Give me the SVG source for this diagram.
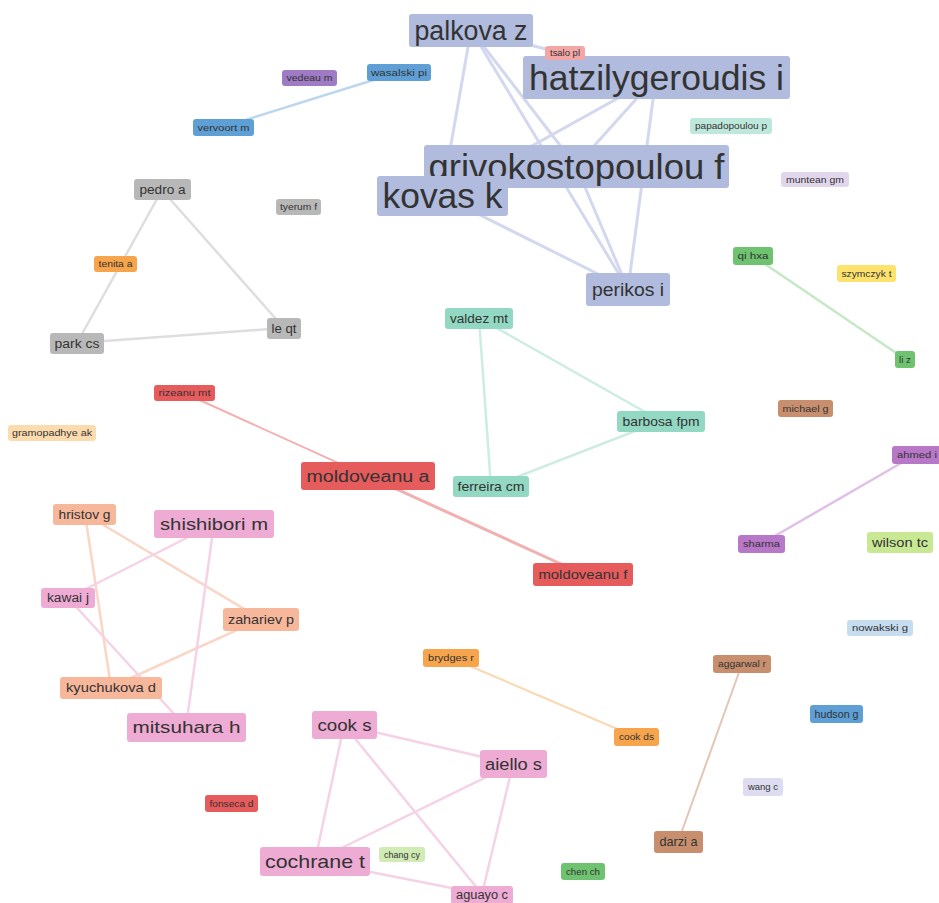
<svg xmlns="http://www.w3.org/2000/svg" width="939" height="903" viewBox="0 0 939 903">
<style>
  text { font-family: "Liberation Sans", Arial, sans-serif; fill: #333; text-anchor: middle; }
  .n rect { rx: 3; ry: 3; }
  .e line { stroke-linecap: round; fill: none; }
  .blu { fill: #b0bbdd; }
  .pur { fill: #9f7bc6; }
  .sky { fill: #5e9fd6; }
  .tsa { fill: #f2a6a6; }
  .mint { fill: #bfe8dc; }
  .lil { fill: #e2d6ec; }
  .gry { fill: #b8b8b8; }
  .org { fill: #f7a54c; }
  .grn { fill: #6fc270; }
  .yel { fill: #fde36e; }
  .teal { fill: #92d8c2; }
  .red { fill: #e65b5c; }
  .peach { fill: #fcdcae; }
  .brn { fill: #c78f6e; }
  .vio { fill: #b878c8; }
  .lgrn { fill: #c8e894; }
  .lblu { fill: #c6dcef; }
  .sal { fill: #f7b79b; }
  .pink { fill: #eeabd4; }
  .lav { fill: #dedcf0; }
  .pgrn { fill: #d0ecb4; }
  .ebl { stroke: #d3d8ef; stroke-width: 3; }
  .egr { stroke: #dedede; stroke-width: 2.5; }
  .esk { stroke: #bcd6ee; stroke-width: 2.5; }
  .egn { stroke: #c6e8c6; stroke-width: 2.5; }
  .etl { stroke: #cdece2; stroke-width: 2.5; }
  .erd { stroke: #f2b0b1; stroke-width: 2; }
  .evi { stroke: #e0c0e6; stroke-width: 2.5; }
  .esa { stroke: #fad6c6; stroke-width: 2.5; }
  .epk { stroke: #f6d2e6; stroke-width: 2.5; }
  .eor { stroke: #fad8b2; stroke-width: 2; }
  .ebr { stroke: #e2c6b6; stroke-width: 2; }
</style>
<rect width="939" height="903" fill="#ffffff"/>
<g id="connectors" class="e">
  <line class="ebl" x1="471" y1="30" x2="656" y2="77"/>
  <line class="ebl" x1="471" y1="30" x2="576" y2="166"/>
  <line class="ebl" x1="471" y1="30" x2="442" y2="196"/>
  <line class="ebl" x1="471" y1="30" x2="628" y2="289"/>
  <line class="ebl" x1="656" y1="77" x2="576" y2="166"/>
  <line class="ebl" x1="656" y1="77" x2="442" y2="196"/>
  <line class="ebl" x1="656" y1="77" x2="628" y2="289"/>
  <line class="ebl" x1="576" y1="166" x2="628" y2="289"/>
  <line class="ebl" x1="442" y1="196" x2="628" y2="289"/>
  <line class="ebl" x1="442" y1="196" x2="576" y2="166"/>
  <line class="esk" x1="223" y1="127" x2="399" y2="72"/>
  <line class="egr" x1="162" y1="190" x2="77" y2="343"/>
  <line class="egr" x1="162" y1="190" x2="284" y2="328"/>
  <line class="egr" x1="77" y1="343" x2="284" y2="328"/>
  <line class="egn" x1="753" y1="256" x2="905" y2="359"/>
  <line class="etl" x1="479" y1="318" x2="491" y2="487"/>
  <line class="etl" x1="479" y1="318" x2="661" y2="421"/>
  <line class="etl" x1="661" y1="421" x2="491" y2="487"/>
  <line class="erd" x1="184" y1="393" x2="583" y2="574"/>
  <line class="erd" x1="368" y1="476" x2="583" y2="574" style="stroke-width:3"/>
  <line class="evi" x1="915" y1="455" x2="761" y2="544"/>
  <line class="esa" x1="85" y1="514" x2="261" y2="619"/>
  <line class="esa" x1="85" y1="514" x2="111" y2="687"/>
  <line class="esa" x1="261" y1="619" x2="111" y2="687"/>
  <line class="epk" x1="214" y1="524" x2="68" y2="598"/>
  <line class="epk" x1="214" y1="524" x2="186" y2="727"/>
  <line class="epk" x1="68" y1="598" x2="186" y2="727"/>
  <line class="eor" x1="451" y1="658" x2="636" y2="737"/>
  <line class="ebr" x1="742" y1="664" x2="678" y2="842"/>
  <line class="epk" x1="344" y1="725" x2="513" y2="764"/>
  <line class="epk" x1="344" y1="725" x2="315" y2="861"/>
  <line class="epk" x1="344" y1="725" x2="482" y2="894"/>
  <line class="epk" x1="513" y1="764" x2="315" y2="861"/>
  <line class="epk" x1="513" y1="764" x2="482" y2="894"/>
  <line class="epk" x1="315" y1="861" x2="482" y2="894"/>
</g>
<g id="n-palkova" class="n"><rect class="blu" x="409" y="14" width="124" height="33"/><text x="471" y="40" font-size="27" textLength="113" lengthAdjust="spacingAndGlyphs">palkova z</text></g>
<g id="n-hatzilygeroudis" class="n"><rect class="blu" x="523" y="56" width="267" height="43"/><text x="656.5" y="90" font-size="35" textLength="255" lengthAdjust="spacingAndGlyphs">hatzilygeroudis i</text></g>
<g id="n-grivokostopoulou" class="n"><rect class="blu" x="424" y="145" width="305" height="43"/><text x="576.5" y="179" font-size="35" textLength="296" lengthAdjust="spacingAndGlyphs">grivokostopoulou f</text></g>
<g id="n-kovas" class="n"><rect class="blu" x="377" y="176" width="131" height="40"/><text x="442.5" y="208" font-size="35" textLength="120" lengthAdjust="spacingAndGlyphs">kovas k</text></g>
<g id="n-perikos" class="n"><rect class="blu" x="586" y="273" width="84" height="33"/><text x="628" y="296" font-size="19" textLength="72" lengthAdjust="spacingAndGlyphs">perikos i</text></g>
<g id="n-tsalo" class="n"><rect class="tsa" x="545" y="46" width="40" height="14"/><text x="565" y="56" font-size="9" textLength="30" lengthAdjust="spacingAndGlyphs">tsalo pl</text></g>
<g id="n-papadopoulou" class="n"><rect class="mint" x="690" y="118" width="82" height="16"/><text x="731" y="129" font-size="9" textLength="72" lengthAdjust="spacingAndGlyphs">papadopoulou p</text></g>
<g id="n-muntean" class="n"><rect class="lil" x="781" y="172" width="68" height="15"/><text x="815" y="182.5" font-size="9" textLength="58" lengthAdjust="spacingAndGlyphs">muntean gm</text></g>
<g id="n-vedeau" class="n"><rect class="pur" x="282" y="70" width="55" height="16"/><text x="309.5" y="81.3" font-size="9" textLength="46" lengthAdjust="spacingAndGlyphs">vedeau m</text></g>
<g id="n-wasalski" class="n"><rect class="sky" x="367" y="64" width="64" height="17"/><text x="399" y="75.8" font-size="9" textLength="56" lengthAdjust="spacingAndGlyphs">wasalski pi</text></g>
<g id="n-vervoort" class="n"><rect class="sky" x="193" y="119" width="61" height="17"/><text x="223.5" y="130.8" font-size="9" textLength="52" lengthAdjust="spacingAndGlyphs">vervoort m</text></g>
<g id="n-pedro" class="n"><rect class="gry" x="134" y="179" width="57" height="21"/><text x="162.5" y="193.5" font-size="12" textLength="46" lengthAdjust="spacingAndGlyphs">pedro a</text></g>
<g id="n-tyerum" class="n"><rect class="gry" x="276" y="199" width="45" height="16"/><text x="298.5" y="210.3" font-size="9" textLength="37" lengthAdjust="spacingAndGlyphs">tyerum f</text></g>
<g id="n-tenita" class="n"><rect class="org" x="94" y="256" width="43" height="16"/><text x="115.5" y="267.3" font-size="9" textLength="34" lengthAdjust="spacingAndGlyphs">tenita a</text></g>
<g id="n-park" class="n"><rect class="gry" x="50" y="333" width="54" height="21"/><text x="77" y="347.7" font-size="12" textLength="45" lengthAdjust="spacingAndGlyphs">park cs</text></g>
<g id="n-leqt" class="n"><rect class="gry" x="267" y="318" width="34" height="21"/><text x="284" y="332.7" font-size="12" textLength="25" lengthAdjust="spacingAndGlyphs">le qt</text></g>
<g id="n-qi" class="n"><rect class="grn" x="733" y="247" width="40" height="18"/><text x="753" y="259.3" font-size="9" textLength="31" lengthAdjust="spacingAndGlyphs">qi hxa</text></g>
<g id="n-szymczyk" class="n"><rect class="yel" x="837" y="265" width="59" height="17"/><text x="866.5" y="276.8" font-size="9" textLength="50" lengthAdjust="spacingAndGlyphs">szymczyk t</text></g>
<g id="n-liz" class="n"><rect class="grn" x="895" y="351" width="20" height="17"/><text x="905" y="362.8" font-size="9" textLength="12" lengthAdjust="spacingAndGlyphs">li z</text></g>
<g id="n-valdez" class="n"><rect class="teal" x="445" y="308" width="68" height="21"/><text x="479" y="322.7" font-size="12" textLength="58" lengthAdjust="spacingAndGlyphs">valdez mt</text></g>
<g id="n-barbosa" class="n"><rect class="teal" x="617" y="411" width="88" height="21"/><text x="661" y="425.9" font-size="13" textLength="77" lengthAdjust="spacingAndGlyphs">barbosa fpm</text></g>
<g id="n-ferreira" class="n"><rect class="teal" x="453" y="476" width="76" height="21"/><text x="491" y="490.9" font-size="13" textLength="67" lengthAdjust="spacingAndGlyphs">ferreira cm</text></g>
<g id="n-moldoveanu-a" class="n"><rect class="red" x="301" y="462" width="134" height="28"/><text x="368" y="481.5" font-size="16" textLength="123" lengthAdjust="spacingAndGlyphs">moldoveanu a</text></g>
<g id="n-moldoveanu-f" class="n"><rect class="red" x="533" y="563" width="100" height="23"/><text x="583" y="579" font-size="13" textLength="89" lengthAdjust="spacingAndGlyphs">moldoveanu f</text></g>
<g id="n-rizeanu" class="n"><rect class="red" x="154" y="385" width="61" height="16"/><text x="184.5" y="396.3" font-size="9" textLength="52" lengthAdjust="spacingAndGlyphs">rizeanu mt</text></g>
<g id="n-gramopadhye" class="n"><rect class="peach" x="8" y="425" width="88" height="16"/><text x="52" y="436.3" font-size="9" textLength="80" lengthAdjust="spacingAndGlyphs">gramopadhye ak</text></g>
<g id="n-michael" class="n"><rect class="brn" x="778" y="400" width="55" height="17"/><text x="805.5" y="411.8" font-size="9" textLength="46" lengthAdjust="spacingAndGlyphs">michael g</text></g>
<g id="n-ahmed" class="n"><rect class="vio" x="892" y="446" width="50" height="18"/><text x="917" y="458.3" font-size="9" textLength="40" lengthAdjust="spacingAndGlyphs">ahmed i</text></g>
<g id="n-sharma" class="n"><rect class="vio" x="738" y="535" width="47" height="18"/><text x="761.5" y="547.3" font-size="9" textLength="37" lengthAdjust="spacingAndGlyphs">sharma</text></g>
<g id="n-wilson" class="n"><rect class="lgrn" x="867" y="532" width="66" height="21"/><text x="900" y="546.9" font-size="13" textLength="56" lengthAdjust="spacingAndGlyphs">wilson tc</text></g>
<g id="n-nowakski" class="n"><rect class="lblu" x="847" y="620" width="66" height="16"/><text x="880" y="631.3" font-size="9" textLength="56" lengthAdjust="spacingAndGlyphs">nowakski g</text></g>
<g id="n-hristov" class="n"><rect class="sal" x="53" y="504" width="63" height="21"/><text x="84.5" y="518.7" font-size="12" textLength="52" lengthAdjust="spacingAndGlyphs">hristov g</text></g>
<g id="n-shishibori" class="n"><rect class="pink" x="154" y="510" width="120" height="28"/><text x="214" y="529.8" font-size="17" textLength="108" lengthAdjust="spacingAndGlyphs">shishibori m</text></g>
<g id="n-kawai" class="n"><rect class="pink" x="41" y="588" width="54" height="20"/><text x="68" y="602.2" font-size="12" textLength="42" lengthAdjust="spacingAndGlyphs">kawai j</text></g>
<g id="n-zahariev" class="n"><rect class="sal" x="223" y="608" width="76" height="23"/><text x="261" y="623.9" font-size="13" textLength="66" lengthAdjust="spacingAndGlyphs">zahariev p</text></g>
<g id="n-kyuchukova" class="n"><rect class="sal" x="60" y="677" width="102" height="22"/><text x="111" y="692.4" font-size="13" textLength="90" lengthAdjust="spacingAndGlyphs">kyuchukova d</text></g>
<g id="n-mitsuhara" class="n"><rect class="pink" x="127" y="713" width="119" height="29"/><text x="186.5" y="733.4" font-size="17" textLength="108" lengthAdjust="spacingAndGlyphs">mitsuhara h</text></g>
<g id="n-brydges" class="n"><rect class="org" x="423" y="649" width="56" height="18"/><text x="451" y="661.3" font-size="9" textLength="46" lengthAdjust="spacingAndGlyphs">brydges r</text></g>
<g id="n-cookds" class="n"><rect class="org" x="614" y="728" width="45" height="18"/><text x="636.5" y="740.3" font-size="9" textLength="35" lengthAdjust="spacingAndGlyphs">cook ds</text></g>
<g id="n-aggarwal" class="n"><rect class="brn" x="713" y="655" width="58" height="18"/><text x="742" y="667.3" font-size="9" textLength="48" lengthAdjust="spacingAndGlyphs">aggarwal r</text></g>
<g id="n-hudson" class="n"><rect class="sky" x="810" y="705" width="53" height="18"/><text x="836.5" y="717.5" font-size="10" textLength="44" lengthAdjust="spacingAndGlyphs">hudson g</text></g>
<g id="n-wang" class="n"><rect class="lav" x="743" y="778" width="40" height="18"/><text x="763" y="790.3" font-size="9" textLength="30" lengthAdjust="spacingAndGlyphs">wang c</text></g>
<g id="n-darzi" class="n"><rect class="brn" x="654" y="831" width="49" height="22"/><text x="678.5" y="846.4" font-size="13" textLength="38" lengthAdjust="spacingAndGlyphs">darzi a</text></g>
<g id="n-cooks" class="n"><rect class="pink" x="312" y="711" width="65" height="28"/><text x="344.5" y="730.6" font-size="16" textLength="54" lengthAdjust="spacingAndGlyphs">cook s</text></g>
<g id="n-aiello" class="n"><rect class="pink" x="480" y="750" width="67" height="28"/><text x="513.5" y="769.6" font-size="16" textLength="57" lengthAdjust="spacingAndGlyphs">aiello s</text></g>
<g id="n-cochrane" class="n"><rect class="pink" x="260" y="847" width="110" height="29"/><text x="315" y="868" font-size="19" textLength="100" lengthAdjust="spacingAndGlyphs">cochrane t</text></g>
<g id="n-aguayo" class="n"><rect class="pink" x="451" y="886" width="62" height="18"/><text x="482" y="899" font-size="12" textLength="52" lengthAdjust="spacingAndGlyphs">aguayo c</text></g>
<g id="n-chang" class="n"><rect class="pgrn" x="379" y="847" width="46" height="15"/><text x="402" y="857.6" font-size="9" textLength="36" lengthAdjust="spacingAndGlyphs">chang cy</text></g>
<g id="n-chen" class="n"><rect class="grn" x="561" y="863" width="44" height="17"/><text x="583" y="874.8" font-size="9" textLength="34" lengthAdjust="spacingAndGlyphs">chen ch</text></g>
<g id="n-fonseca" class="n"><rect class="red" x="205" y="795" width="53" height="17"/><text x="231.5" y="806.8" font-size="9" textLength="44" lengthAdjust="spacingAndGlyphs">fonseca d</text></g>
</svg>
